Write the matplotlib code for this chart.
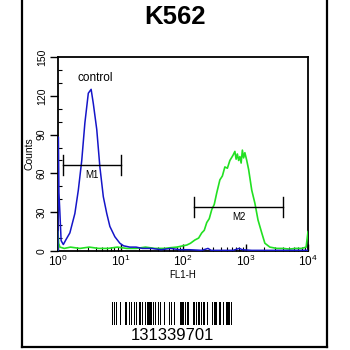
import matplotlib
matplotlib.use("Agg")
import matplotlib.pyplot as plt
import numpy as np
from matplotlib.lines import Line2D
from matplotlib.patches import Rectangle
from matplotlib.ticker import LogLocator, LogFormatterMathtext, MultipleLocator, NullFormatter

plt.rcParams['font.family'] = ['Liberation Sans', 'DejaVu Sans']
plt.rcParams['mathtext.fontset'] = 'custom'
plt.rcParams['mathtext.rm'] = 'Liberation Sans'
plt.rcParams['mathtext.it'] = 'Liberation Sans'

title = "K562"
sample_id = "131339701"

# FL1-H position in decades (log10) and event counts
control_dec = [0.0, 0.0, 0.006, 0.015, 0.03, 0.05, 0.085, 0.13, 0.19, 0.27, 0.325, 0.38, 0.43,
               0.485, 0.53, 0.565, 0.62, 0.67, 0.725, 0.78, 0.83, 0.91, 0.99, 1.05, 1.15,
               1.25, 1.35, 1.5, 1.65, 1.8, 1.95, 2.1, 2.3, 2.4, 2.45, 2.6, 2.8, 2.9,
               2.95, 3.1, 3.3, 3.5, 3.7, 3.9, 4.0]
control_counts = [0, 88, 88, 45, 30, 8, 5, 9, 14, 29, 47, 70, 99,
                  122, 125, 114, 94, 65, 42, 29, 19, 11, 6, 4, 3,
                  3, 2, 2, 1, 2, 1, 1, 0.5, 2, 0.5, 0.5, 0.5, 2,
                  1, 0.5, 0.5, 0.5, 0.5, 0.5, 0.5]

sample_dec = [0.0, 0.0, 0.01, 0.03, 0.1, 0.2, 0.35, 0.5, 0.65, 0.8, 0.95, 1.1, 1.25, 1.4,
              1.55, 1.7, 1.79, 1.9, 2.0, 2.06, 2.12, 2.19, 2.25, 2.3, 2.34, 2.38, 2.42,
              2.46, 2.5, 2.54, 2.59, 2.63, 2.67, 2.71, 2.75, 2.8, 2.83, 2.85, 2.87, 2.89,
              2.91, 2.93, 2.95, 2.97, 2.99, 3.02, 3.05, 3.1, 3.15, 3.2, 3.26, 3.31, 3.39,
              3.5, 3.6, 3.7, 3.8, 3.9, 3.97, 4.0]
sample_counts = [0, 15, 6, 3, 2, 3, 2, 3, 2, 2, 3, 2, 2, 3,
                 2, 2, 2.5, 3, 4, 4.6, 6, 8.5, 10, 14, 16, 22, 25,
                 32, 36, 45, 55, 58, 65, 64, 70, 74, 77, 71, 75, 70,
                 73, 68, 78, 72, 76, 70, 63, 47, 37, 24, 14, 6, 3,
                 2, 2, 1.5, 2, 2, 3, 15]

# Marker gates: (label, start decade, end decade, count level)
gates = [("M1", 0.08, 1.0, 66.5), ("M2", 2.18, 3.6, 34)]

y_ticks = [0, 30, 60, 90, 120, 150]

# Bar/space widths (modules), alternating starting with a bar
barcode_widths = [2, 1, 1, 2, 1, 4, 2, 3, 1, 1, 3, 2, 2, 1, 1, 3, 1, 2, 1, 3, 2, 1, 1, 3,
                  1, 2, 2, 1, 4, 1, 1, 2, 1, 3, 1, 1, 1, 4, 2, 2, 1, 2, 2, 1, 1, 3, 1, 2,
                  1, 4, 3, 1, 1, 1, 1, 2, 3, 3, 1, 1, 2, 2, 1, 1, 3, 1, 2, 1, 3, 2, 2, 3,
                  1, 1, 1, 2, 3, 3, 1, 1, 1, 2, 2, 3, 3, 1, 1, 1, 2]

W = H = 350
fig = plt.figure(figsize=(3.5, 3.5), dpi=100)
fig.patch.set_facecolor('white')

def fx(px):
    return px / W

def fy(py):
    return 1 - py / H

ax = fig.add_axes([fx(58), fy(251), fx(308) - fx(58), fy(57) - fy(251)])

ax.plot(10 ** np.array(sample_dec), sample_counts, color='#22e022', lw=1.2, zorder=3)
ax.plot(10 ** np.array(control_dec), control_counts, color='#1515c8', lw=1.1, zorder=4)

for name, d0, d1, lvl in gates:
    x0, x1 = 10 ** d0, 10 ** d1
    ax.plot([x0, x1], [lvl, lvl], color='black', lw=1.0, zorder=5)
    for xe in (x0, x1):
        ax.plot([xe, xe], [lvl - 7.5, lvl + 7.5], color='black', lw=1.0, zorder=5)
    ax.text(10 ** ((d0 + d1) / 2), lvl - 3.5, name, ha='center', va='top', fontsize=7)

ax.text(10 ** 0.6, 134, "control", ha='center', va='center', fontsize=8.5)

ax.set_xscale('log')
ax.set_xlim(1, 1e4)
ax.set_ylim(0, 150)
ax.xaxis.set_major_locator(LogLocator(base=10, numticks=10))
ax.xaxis.set_major_formatter(LogFormatterMathtext())
ax.xaxis.set_minor_locator(LogLocator(base=10, subs=np.arange(2, 10), numticks=20))
ax.xaxis.set_minor_formatter(NullFormatter())
ax.tick_params(axis='x', which='major', direction='in', length=5, width=1, labelsize=8.5, pad=2)
ax.tick_params(axis='x', which='minor', direction='in', length=3, width=0.8)

ax.set_yticks(y_ticks)
ax.yaxis.set_minor_locator(MultipleLocator(10))
ax.tick_params(axis='y', which='major', direction='out', length=6, width=1, labelsize=7.5, pad=2)
ax.tick_params(axis='y', which='minor', direction='in', length=3, width=0.8)
for lab in ax.get_yticklabels():
    lab.set_rotation(90)
    lab.set_va('center')

for sp in ax.spines.values():
    sp.set_linewidth(1.3)

ax.set_xlabel("FL1-H", fontsize=7, labelpad=1)
ax.set_ylabel("Counts", fontsize=7.5, labelpad=2)

fig.text(fx(175), fy(17), title, ha='center', va='center', fontsize=18.5, fontweight='bold')

# outer frame (open at the top)
for (xa, ya), (xb, yb) in [((22, 0), (22, 347)), ((22, 347), (327, 347)), ((327, 347), (327, 0))]:
    fig.add_artist(Line2D([fx(xa), fx(xb)], [fy(ya), fy(yb)], color='black', lw=1.6))

# barcode
bx0, bx1, by0, by1 = 111.5, 232.5, 301.5, 324.5
total = sum(barcode_widths)
unit = (bx1 - bx0) / total
pos = bx0
for i, w in enumerate(barcode_widths):
    if i % 2 == 0:
        fig.add_artist(Rectangle((fx(pos), fy(by1)), w * unit / W, (by1 - by0) / H,
                                 facecolor='black', edgecolor='none'))
    pos += w * unit
fig.text(fx(172.5), fy(336), sample_id, ha='center', va='center', fontsize=12)

fig.savefig("out.png", dpi=100, facecolor='white')
